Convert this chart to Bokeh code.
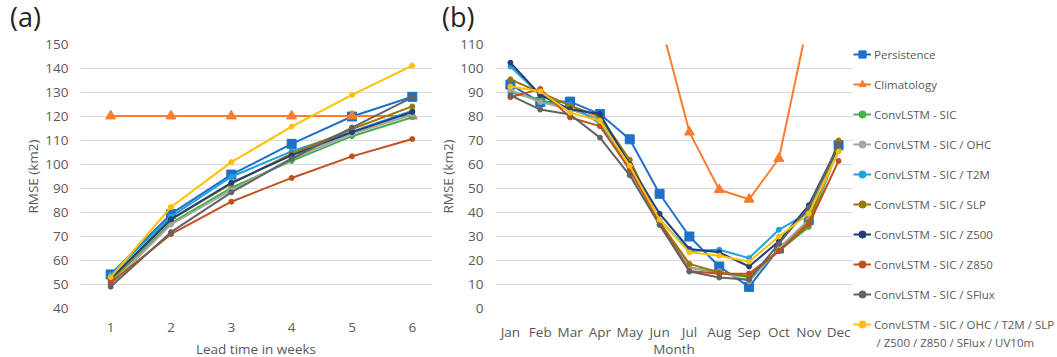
from bokeh.plotting import figure
from bokeh.models import Range1d, FactorRange, FixedTicker, Legend, LegendItem, Div, Label
from bokeh.layouts import row, column
from bokeh.embed import file_html
from bokeh.resources import INLINE

# ---------------- data ----------------
weeks = [1, 2, 3, 4, 5, 6]
a_persistence = [54.2, 79.4, 95.8, 108.6, 120.0, 128.2]
a_climatology = [120.2, 120.2, 120.2, 120.2, 120.2, 120.2]
a_sic = [51.4, 75.6, 90.3, 101.5, 111.8, 119.7]
a_ohc = [50.0, 75.0, 89.3, 102.4, 112.8, 120.8]
a_t2m = [54.0, 78.3, 94.9, 105.5, 113.7, 122.4]
a_slp = [52.0, 77.0, 92.0, 104.5, 114.8, 124.2]
a_z500 = [52.5, 77.2, 92.4, 103.8, 113.5, 121.9]
a_z850 = [50.7, 71.0, 84.5, 94.4, 103.4, 110.6]
a_sflux = [49.1, 71.8, 88.4, 102.4, 115.4, 128.0]
a_all = [53.0, 82.3, 101.0, 115.8, 129.0, 141.2]

months = ["Jan", "Feb", "Mar", "Apr", "May", "Jun", "Jul", "Aug", "Sep", "Oct", "Nov", "Dec"]
b_persistence = [93.3, 86.0, 86.2, 81.0, 70.5, 47.8, 30.0, 17.5, 9.0, 25.0, 36.8, 68.0]
b_climatology = [150.0, 158.0, 162.0, 158.0, 145.0, 120.9, 73.5, 49.5, 45.5, 62.5, 121.1, 140.0]
b_sic = [90.0, 87.0, 83.0, 79.0, 60.0, 36.0, 17.0, 15.0, 13.0, 24.0, 34.0, 67.0]
b_ohc = [91.0, 86.0, 83.0, 79.0, 57.0, 35.0, 17.0, 15.5, 11.3, 25.0, 37.0, 66.0]
b_t2m = [100.8, 89.0, 85.0, 77.0, 60.0, 37.0, 24.0, 24.5, 21.0, 32.8, 40.0, 66.0]
b_slp = [95.5, 90.0, 84.5, 80.0, 62.0, 36.0, 18.6, 15.0, 13.5, 24.0, 36.0, 70.0]
b_z500 = [102.4, 89.0, 83.0, 81.0, 60.0, 39.5, 24.8, 23.4, 17.5, 28.0, 43.0, 68.0]
b_z850 = [88.0, 91.5, 79.6, 76.0, 58.0, 36.0, 15.6, 14.5, 14.6, 24.0, 35.0, 61.5]
b_sflux = [88.8, 82.9, 80.8, 71.2, 55.5, 34.8, 15.4, 12.9, 12.0, 27.0, 42.0, 68.0]
b_all = [92.5, 90.5, 81.6, 78.2, 59.5, 37.0, 23.4, 22.0, 19.5, 30.0, 39.5, 65.4]

a_ticks = [40, 50, 60, 70, 80, 90, 100, 110, 120, 130, 140, 150]
b_ticks = [0, 10, 20, 30, 40, 50, 60, 70, 80, 90, 100, 110]

labels = ["Persistence", "Climatology", "ConvLSTM - SIC", "ConvLSTM - SIC / OHC",
          "ConvLSTM - SIC / T2M", "ConvLSTM - SIC / SLP", "ConvLSTM - SIC / Z500",
          "ConvLSTM - SIC / Z850", "ConvLSTM - SIC / SFlux",
          "ConvLSTM - SIC / OHC / T2M / SLP"]
label_tail = "/ Z500 / Z850 / SFlux / UV10m"
colors = ["#1E70C8", "#F97C2F", "#43B04A", "#A5A5A5", "#20A0E0",
          "#9C7400", "#213F7A", "#C0501C", "#636363", "#FFC000"]
markers = ["square", "triangle", "circle", "circle", "circle",
           "circle", "circle", "circle", "circle", "circle"]
msizes = [9, 10, 5, 5, 5, 5, 5, 5, 5, 5]

a_series = [a_persistence, a_climatology, a_sic, a_ohc, a_t2m, a_slp, a_z500, a_z850, a_sflux, a_all]
b_series = [b_persistence, b_climatology, b_sic, b_ohc, b_t2m, b_slp, b_z500, b_z850, b_sflux, b_all]

FONT = "Open Sans"
TXT = "#595959"
GRID = "#D9D9D9"
TOP = 34   # strip with the panel letters
BOT = 13   # strip with the x-axis titles
H = 357 - TOP - BOT


def style(p):
    p.outline_line_color = None
    p.xgrid.grid_line_color = None
    p.ygrid.grid_line_color = GRID
    p.ygrid.grid_line_width = 1
    for ax in (p.xaxis[0], p.yaxis[0]):
        ax.axis_line_color = None
        ax.major_tick_line_color = None
        ax.minor_tick_line_color = None
        ax.major_tick_out = 0
        ax.major_tick_in = 0
        ax.minor_tick_out = 0
        ax.minor_tick_in = 0
        ax.major_label_text_font = FONT
        ax.major_label_text_font_size = "13.5px"
        ax.major_label_text_color = TXT
        ax.axis_label_text_font = FONT
        ax.axis_label_text_font_size = "13.5px"
        ax.axis_label_text_color = TXT
        ax.axis_label_text_font_style = "normal"
    p.yaxis.major_label_standoff = 12
    p.xaxis.major_label_standoff = 14
    p.yaxis.axis_label_standoff = 0


def letter(txt, w):
    return Div(text=txt, width=w, height=TOP, margin=0,
               styles={"font-family": FONT, "font-size": "27px", "color": "#222222",
                       "line-height": "34px", "padding-left": "10px"})


def xtitle(txt, w):
    return Div(text=txt, width=w, height=BOT, margin=0,
               styles={"font-family": FONT, "font-size": "13.5px", "color": TXT,
                       "line-height": "10px", "text-align": "center"})


def gap(w):
    return Div(text="", width=w, height=BOT, margin=0)


# ---------------- panel (a) ----------------
pa = figure(width=432, height=H, output_backend="svg", toolbar_location=None,
            x_range=Range1d(0.5, 0.5 + 352 / 60.33), y_range=Range1d(40, 150),
            min_border_left=80, min_border_right=0, min_border_top=42 - TOP,
            min_border_bottom=H + TOP - 308)
style(pa)
pa.xaxis.ticker = FixedTicker(ticks=weeks)
pa.yaxis.ticker = FixedTicker(ticks=a_ticks)
pa.yaxis.axis_label = "RMSE (km2)"

for ys, c, m, s in zip(a_series, colors, markers, msizes):
    pa.line(weeks, ys, line_color=c, line_width=2)
    pa.scatter(weeks, ys, marker=m, size=s, fill_color=c, line_color=c)

# ---------------- panel (b) ----------------
pb = figure(width=421, height=H, output_backend="svg", toolbar_location=None,
            x_range=FactorRange(factors=months), y_range=Range1d(0, 110),
            min_border_left=63, min_border_right=0, min_border_top=44 - TOP,
            min_border_bottom=H + TOP - 310)
style(pb)
pb.yaxis.ticker = FixedTicker(ticks=b_ticks)
pb.yaxis.axis_label = "RMSE (km2)"

for ys, c, m, s in zip(b_series, colors, markers, msizes):
    pb.line(months, ys, line_color=c, line_width=2)
    pb.scatter(months, ys, marker=m, size=s, fill_color=c, line_color=c)

# ---------------- legend strip (same series, drawn outside its view) ----------------
pl = figure(width=204, height=357, output_backend="svg", toolbar_location=None,
            x_range=FactorRange(factors=months), y_range=Range1d(1000, 1010),
            x_axis_location=None, y_axis_location=None,
            min_border_left=0, min_border_right=0, min_border_top=44, min_border_bottom=0)
pl.outline_line_color = None
pl.grid.visible = False

items = []
for lab, ys, c, m, s in zip(labels, b_series, colors, markers, msizes):
    r1 = pl.line(months, ys, line_color=c, line_width=2)
    r2 = pl.scatter(months, ys, marker=m, size=s, fill_color=c, line_color=c)
    items.append(LegendItem(label=lab, renderers=[r1, r2]))

legend = Legend(items=items, location="top_left", orientation="vertical",
                margin=0, padding=2, spacing=10, glyph_width=18, glyph_height=20,
                label_height=20, label_standoff=3,
                label_text_font=FONT, label_text_font_size="11.5px", label_text_color=TXT,
                border_line_color=None, background_fill_alpha=0)
pl.add_layout(legend, "center")
pl.add_layout(Label(x=23, y=15, x_units="screen", y_units="screen", text=label_tail,
                    text_font=FONT, text_font_size="11.5px", text_color=TXT,
                    text_baseline="middle", text_align="left"))

left = column(row(letter("(a)", 432), letter("(b)", 421)),
              row(pa, pb),
              row(gap(80), xtitle("Lead time in weeks", 352), gap(63), xtitle("Month", 358)))
layout = row(left, pl)
open("out.html", "w").write(file_html(layout, INLINE))
